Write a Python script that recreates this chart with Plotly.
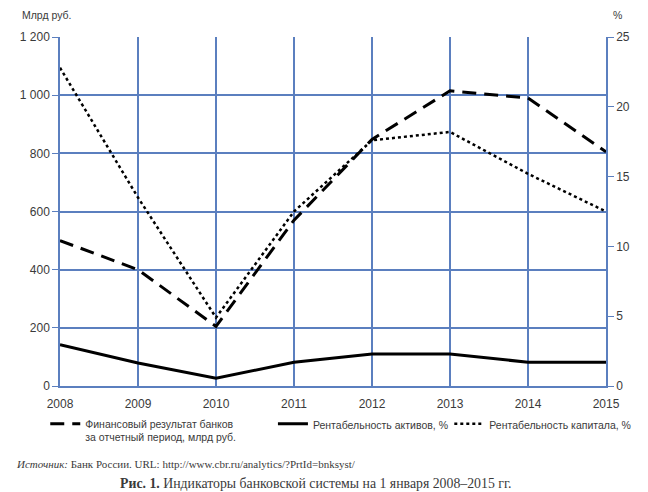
import plotly.graph_objects as go

years = [2008, 2009, 2010, 2011, 2012, 2013, 2014, 2015]
fin_result = [500, 400, 205, 570, 848, 1015, 990, 805]   # млрд руб., left axis
roa = [2.95, 1.65, 0.55, 1.7, 2.3, 2.3, 1.7, 1.7]      # %, right axis
roe = [22.8, 13.5, 4.9, 12.5, 17.6, 18.2, 15.2, 12.5]  # %, right axis

name_fin = "Финансовый результат банков<br>за отчетный период, млрд руб."
name_roa = "Рентабельность активов, %"
name_roe = "Рентабельность капитала, %"

GRID = "#5b7fbf"
TXT = "#3a3a3a"
SANS = "Liberation Sans, Arial, sans-serif"
SERIF = "Liberation Serif, Times New Roman, serif"

fig = go.Figure()
fig.add_trace(go.Scatter(x=years, y=fin_result, name=name_fin, mode="lines",
                         line=dict(color="black", width=3, dash="14px,8px"),
                         yaxis="y", legend="legend"))
fig.add_trace(go.Scatter(x=years, y=roa, name=name_roa, mode="lines",
                         line=dict(color="black", width=3),
                         yaxis="y2", legend="legend2"))
fig.add_trace(go.Scatter(x=years, y=roe, name=name_roe, mode="lines",
                         line=dict(color="black", width=2.5, dash="dot"),
                         yaxis="y2", legend="legend3"))

legend_common = dict(orientation="v", yanchor="top", xanchor="left",
                     font=dict(family=SANS, size=10.5, color=TXT),
                     bgcolor="rgba(0,0,0,0)", valign="top", itemwidth=30)

# The page body adds an 8px margin, so the figure is sized 640x484.
fig.update_layout(
    width=640, height=484,
    margin=dict(l=47, r=36, t=29, b=106),
    paper_bgcolor="white", plot_bgcolor="white",
    separators=", ",
    font=dict(family=SANS, size=12, color=TXT),
    xaxis=dict(range=[2008, 2015], tickmode="array", tickvals=years,
               showgrid=True, gridcolor=GRID, gridwidth=1.5,
               showline=True, linecolor=GRID, linewidth=1.5,
               ticks="", ticklabelstandoff=6, zeroline=False),
    yaxis=dict(range=[0, 1200], dtick=200, tickformat=",d",
               showgrid=True, gridcolor=GRID, gridwidth=1.5,
               showline=True, linecolor=GRID, linewidth=1.5,
               ticks="outside", ticklen=6, tickcolor=GRID, zeroline=False),
    yaxis2=dict(range=[0, 25], dtick=5, overlaying="y", side="right",
                showgrid=False, showline=True, linecolor=GRID, linewidth=1.5,
                ticks="outside", ticklen=6, tickcolor=GRID, zeroline=False),
    showlegend=True,
    legend=dict(x=-0.027, y=-0.07, **legend_common),
    legend2=dict(x=0.39, y=-0.07, **legend_common),
    legend3=dict(x=0.713, y=-0.07, **legend_common),
)

fig.add_annotation(text="Млрд руб.", xref="paper", yref="paper", x=-0.0736, y=1.063,
                   xanchor="left", yanchor="middle", showarrow=False,
                   font=dict(family=SANS, size=10.5, color=TXT))
fig.add_annotation(text="%", xref="paper", yref="paper", x=1.01, y=1.063,
                   xanchor="left", yanchor="middle", showarrow=False,
                   font=dict(family=SANS, size=10.5, color=TXT))
fig.add_annotation(text="<i>Источник:</i> Банк России. URL: http://www.cbr.ru/analytics/?PrtId=bnksyst/",
                   xref="paper", yref="paper", x=-0.085, y=-0.2235,
                   xanchor="left", yanchor="middle", showarrow=False,
                   font=dict(family=SERIF, size=11, color=TXT))
fig.add_annotation(text="<b>Рис. 1.</b> Индикаторы банковской системы на 1 января 2008–2015 гг.",
                   xref="paper", yref="paper", x=0.4686, y=-0.278,
                   xanchor="center", yanchor="middle", showarrow=False,
                   font=dict(family=SERIF, size=13.8, color=TXT))

fig.write_html("out.html")
